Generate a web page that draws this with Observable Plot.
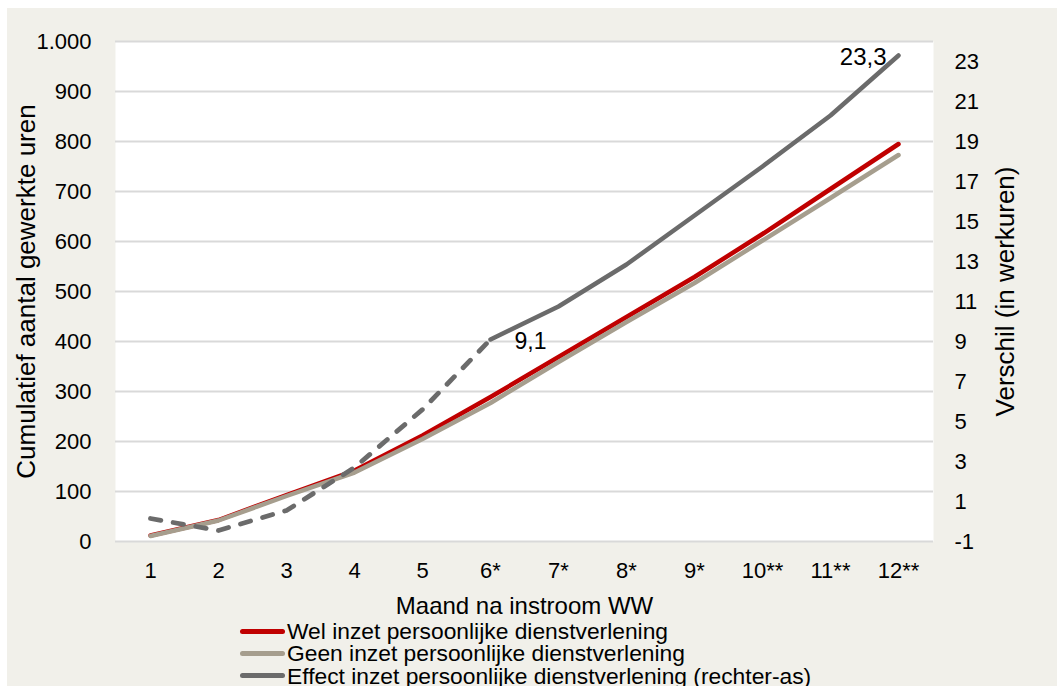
<!DOCTYPE html>
<html><head><meta charset="utf-8">
<script src="https://cdn.jsdelivr.net/npm/d3@7"></script>
<script src="https://cdn.jsdelivr.net/npm/@observablehq/plot@0.6"></script>
<style>
body{margin:0;background:#fff;font-family:"Liberation Sans",Arial,sans-serif;}
#bg{position:absolute;left:7px;top:8px;width:1050px;height:678px;background:#f1f0ea;}
#chart{position:absolute;left:0;top:0;}
#legend{position:absolute;left:240px;top:620px;font-size:22.8px;color:#000;}
.item{display:flex;align-items:center;white-space:nowrap;height:22px;margin-bottom:0.3px;}
.sw{width:45px;height:5px;border-radius:3px;margin-right:2px;flex:none;}
.lbl{display:block;height:22px;line-height:22px;}
</style></head>
<body>
<div id="bg"></div>
<div id="chart"></div>
<div id="legend"></div>
<script>
const months = ["1","2","3","4","5","6*","7*","8*","9*","10**","11**","12**"];
const wel = [12,43,93,142,212,289,369,449,529,615,705,795];
const geen = [11,42,91,138,205,277,359,439,517,602,687,773];
const effect = [0.15,-0.45,0.55,2.7,5.6,9.1,10.75,12.85,15.3,17.75,20.3,23.3];
const leftTicks = d3.range(0,1001,100);
const rightTicks = d3.range(-1,24,2);
const seriesNames = ["Wel inzet persoonlijke dienstverlening","Geen inzet persoonlijke dienstverlening","Effect inzet persoonlijke dienstverlening (rechter-as)"];
const yLeftTitle = "Cumulatief aantal gewerkte uren";
const yRightTitle = "Verschil (in werkuren)";
const xTitle = "Maand na instroom WW";
const colors = ["#c00000","#a69e8e","#6b6b6b"];

// right axis maps linearly onto left scale: left = (right + 1) * 40
const toLeft = v => (v + 1) * 40;
const nl = d3.formatLocale({decimal:",",thousands:".",grouping:[3],currency:["",""]});
const fmtThousands = nl.format(",");
const fmtDec = nl.format(",.1f");

const rows = months.map((m,i)=>({m, wel:wel[i], geen:geen[i], eff:effect[i], effL:toLeft(effect[i]), i}));
const dashed = rows.filter(d=>d.i<=5);
const solid = rows.filter(d=>d.i>=5);

const chart = Plot.plot({
  width:1057, height:620,
  marginLeft:115, marginRight:124, marginTop:41, marginBottom:79,
  style:{background:"transparent", fontFamily:"'Liberation Sans', Arial, sans-serif", fontSize:"22px", color:"#000"},
  x:{type:"point", domain:months, padding:0.5},
  y:{domain:[0,1000]},
  marks:[
    Plot.frame({fill:"white", stroke:null}),
    Plot.ruleY(leftTicks,{stroke:"#d9d9d9", strokeWidth:1.8}),
    Plot.axisY(leftTicks,{anchor:"left", tickSize:0, tickPadding:24, tickFormat:fmtThousands, label:null, fontSize:22}),
    Plot.axisY(rightTicks.map(toLeft),{anchor:"right", tickSize:0, tickPadding:21, tickFormat:d=>String(Math.round(d/40-1)), label:null, fontSize:22}),
    Plot.axisX({anchor:"bottom", tickSize:0, tickPadding:21, label:null, fontSize:22}),
    Plot.text([yLeftTitle],{frameAnchor:"left", text:d=>d, rotate:-90, dx:-99, lineAnchor:"top", textAnchor:"middle", fontSize:26, fill:"#000"}),
    Plot.text([yRightTitle],{frameAnchor:"right", text:d=>d, rotate:-90, dx:62, lineAnchor:"top", textAnchor:"middle", fontSize:26, fill:"#000"}),
    Plot.text([xTitle],{frameAnchor:"bottom", text:d=>d, dy:72, lineAnchor:"bottom", fontSize:24, fill:"#000"}),
    Plot.line(rows,{x:"m", y:"wel", stroke:colors[0], strokeWidth:4.5, strokeLinecap:"round"}),
    Plot.line(rows,{x:"m", y:"geen", stroke:colors[1], strokeWidth:4.5, strokeLinecap:"round"}),
    Plot.line(dashed,{x:"m", y:"effL", stroke:colors[2], strokeWidth:4.8, strokeDasharray:"10.5,12.5", strokeLinecap:"round"}),
    Plot.line(solid,{x:"m", y:"effL", stroke:colors[2], strokeWidth:4.5, strokeLinecap:"round"}),
    Plot.text([rows[5]],{x:"m", y:"effL", text:d=>fmtDec(d.eff), textAnchor:"start", dx:24, dy:2, fontSize:23, fill:"#000"}),
    Plot.text([rows[11]],{x:"m", y:"effL", text:d=>fmtDec(d.eff), textAnchor:"end", dx:-12, dy:2, fontSize:24, fill:"#000"})
  ]
});
document.getElementById("chart").appendChild(chart);

const leg = document.getElementById("legend");
seriesNames.forEach((n,i)=>{
  const it = document.createElement("div"); it.className="item";
  const sw = document.createElement("div"); sw.className="sw"; sw.style.background=colors[i];
  const t = document.createElement("span"); t.className="lbl"; t.textContent=n;
  it.appendChild(sw); it.appendChild(t); leg.appendChild(it);
});
</script>
</body></html>
